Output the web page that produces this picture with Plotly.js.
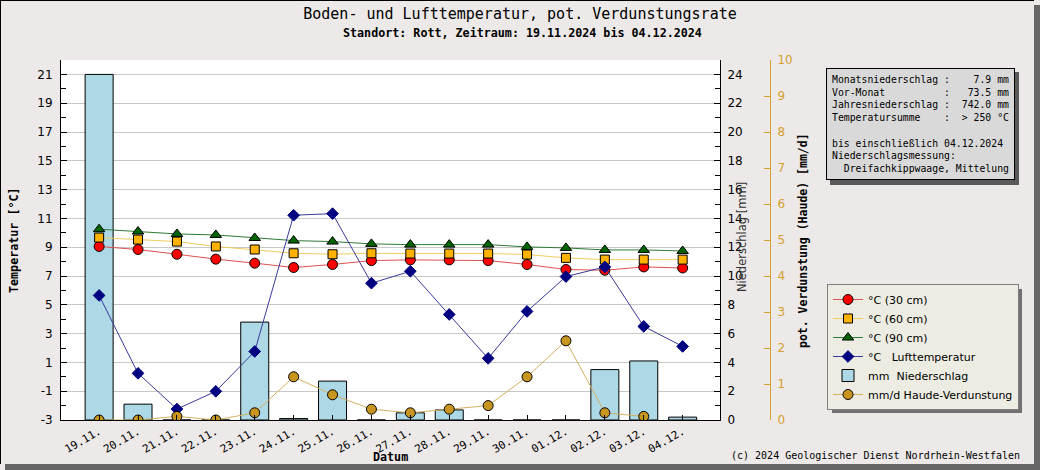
<!DOCTYPE html>
<html><head><meta charset="utf-8">
<script src="https://cdn.plot.ly/plotly-3.0.1.min.js"></script>
<style>html,body{margin:0;padding:0;background:#EDE9E8;} #chart{width:1040px;height:470px;}</style>
</head><body><div id="chart"></div>
<script>
// ---- data ----
const dates = ['19.11.','20.11.','21.11.','22.11.','23.11.','24.11.','25.11.','26.11.','27.11.','28.11.','29.11.','30.11.','01.12.','02.12.','03.12.','04.12.'];
const soil30 = [9.05,8.84,8.51,8.17,7.89,7.59,7.80,8.07,8.12,8.12,8.07,7.80,7.45,7.40,7.63,7.56];
const soil60 = [9.67,9.53,9.39,9.05,8.84,8.58,8.51,8.58,8.56,8.56,8.56,8.49,8.26,8.14,8.14,8.14];
const soil90 = [10.25,10.09,9.92,9.85,9.64,9.46,9.39,9.23,9.18,9.18,9.18,9.02,8.95,8.81,8.81,8.74];
const airTemp = [5.65,0.24,-2.24,-1.01,1.76,11.22,11.33,6.50,7.33,4.33,1.28,4.54,6.96,7.63,3.50,2.11];
const precip = [24.0,1.1,0,0,6.8,0.1,2.7,0,0.5,0.7,0,0,0,3.5,4.1,0.2];
const evap = [0,0,0.1,0,0.2,1.2,0.7,0.3,0.2,0.3,0.4,1.2,2.2,0.2,0.1,null];
const tempTicks = [-3,-1,1,3,5,7,9,11,13,15,17,19,21];
const precipTicks = [0,2,4,6,8,10,12,14,16,18,20,22,24];
const evapTicks = [0,1,2,3,4,5,6,7,8,9,10];
const infoLines = [
  'Monatsniederschlag :    7.9 mm',
  'Vor-Monat          :   73.5 mm',
  'Jahresniederschlag :  742.0 mm',
  'Temperatursumme    :  > 250 °C',
  '',
  'bis einschließlich 04.12.2024',
  'Niederschlagsmessung:',
  '  Dreifachkippwaage, Mittelung'
];

const MONO = 'DejaVu Sans Mono';
const SANS = 'DejaVu Sans';
const W = 979, H = 360, L = 61, T = 60;
const px = v => (v - L) / W;
const py = v => (T + H - v) / H;
const nb = s => s.replace(/ /g, '\u00a0');

const traces = [
  {type:'bar', x:dates, y:precip, yaxis:'y', name:nb('mm  Niederschlag'), legendrank:5,
   width:0.72, marker:{color:'#ADD8E6', line:{color:'#000', width:1}}},
  {type:'scatter', mode:'lines+markers', x:dates, y:soil30, yaxis:'y2', name:'°C (30 cm)', legendrank:1,
   line:{color:'#E05050', width:1}, marker:{symbol:'circle', size:10, color:'#FF0000', line:{color:'#000', width:1}}},
  {type:'scatter', mode:'lines+markers', x:dates, y:soil60, yaxis:'y2', name:'°C (60 cm)', legendrank:2,
   line:{color:'#F2CC60', width:1}, marker:{symbol:'square', size:9, color:'#FFB300', line:{color:'#000', width:1}}},
  {type:'scatter', mode:'lines+markers', x:dates, y:soil90, yaxis:'y2', name:'°C (90 cm)', legendrank:3,
   line:{color:'#2F7A35', width:1}, marker:{symbol:'triangle-up', size:10, color:'#006400', line:{color:'#000', width:1}}},
  {type:'scatter', mode:'lines+markers', x:dates, y:airTemp, yaxis:'y2', name:nb('°C   Lufttemperatur'), legendrank:4,
   line:{color:'#3A3A9A', width:1}, marker:{symbol:'diamond', size:9, color:'#000080', line:{color:'#000080', width:1}}},
  {type:'scatter', mode:'lines+markers', x:dates, y:evap, yaxis:'y3', name:'mm/d Haude-Verdunstung', legendrank:6,
   line:{color:'#D4B060', width:1}, marker:{symbol:'circle', size:10, color:'#C8961E', line:{color:'#000', width:1}}}
];

const ann = (text, x, y, font, extra) => Object.assign({text, x:px(x), y:py(y), xref:'paper', yref:'paper',
   xanchor:'center', yanchor:'middle', showarrow:false, font}, extra || {});

const annotations = [
  ann('Standort: Rott, Zeitraum: 19.11.2024 bis 04.12.2024', 522, 33, {family:MONO, size:11.7, color:'#000', weight:'bold'}),
  ann('Temperatur [°C]', 14, 240, {family:MONO, size:11.7, color:'#000', weight:'bold'}, {textangle:-90}),
  ann('Niederschlag [mm]', 742, 237, {family:SANS, size:11.5, color:'#333'}, {textangle:-90}),
  ann('pot. Verdunstung (Haude) [mm/d]', 803, 241, {family:MONO, size:11.5, color:'#000', weight:'bold'}, {textangle:-90}),
  ann('Datum', 390, 457, {family:MONO, size:11.7, color:'#000', weight:'bold'}),
  ann('(c) 2024 Geologischer Dienst Nordrhein-Westfalen', 875, 455, {family:MONO, size:10, color:'#000'}),
  ann(infoLines.map(nb).join('<br>'), 826, 68, {family:MONO, size:9.8, color:'#000'},
      {xanchor:'left', yanchor:'top', align:'left', bgcolor:'#D9D9D9', bordercolor:'#000', borderwidth:1, borderpad:5})
];

const LG = {x:827, y:284, w:190, h:124};
const shapes = [
  // info box shadow
  {type:'rect', xref:'paper', yref:'paper', x0:px(830), x1:px(1019), y0:py(72), y1:py(185), fillcolor:'#5A5A5A', line:{width:0}, layer:'above'},
  // legend shadow
  {type:'rect', xref:'paper', yref:'paper', x0:px(LG.x+5), x1:px(LG.x+LG.w+5), y0:py(LG.y+5), y1:py(LG.y+LG.h+5), fillcolor:'#707070', line:{width:0}, layer:'above'},
  // outer frame
  {type:'rect', xref:'paper', yref:'paper', x0:px(1034), x1:px(1040), y0:py(470), y1:py(5), fillcolor:'#666', line:{width:0}, layer:'above'},
  {type:'rect', xref:'paper', yref:'paper', x0:px(5), x1:px(1040), y0:py(470), y1:py(464), fillcolor:'#666', line:{width:0}, layer:'above'},
  {type:'line', xref:'paper', yref:'paper', x0:px(0.5), x1:px(0.5), y0:py(0), y1:py(464), line:{color:'#000', width:1}, layer:'above'},
  {type:'line', xref:'paper', yref:'paper', x0:px(0), x1:px(1034), y0:py(0.5), y1:py(0.5), line:{color:'#000', width:1}, layer:'above'}
];

const layout = {
  width:1040, height:470,
  margin:{l:L, r:1040-L-W, t:T, b:470-T-H, pad:0},
  paper_bgcolor:'#EDE9E8', plot_bgcolor:'#FFFFFF',
  title:{text:'Boden- und Lufttemperatur, pot. Verdunstungsrate', x:0.5, xref:'container', y:1-14/470, yref:'container',
         xanchor:'center', yanchor:'middle', font:{family:MONO, size:15, color:'#000'}},
  showlegend:true,
  legend:{x:px(LG.x), y:py(LG.y), xanchor:'left', yanchor:'top', bgcolor:'rgb(236,236,226)', bordercolor:'#808080', borderwidth:1,
          font:{family:SANS, size:11, color:'#000'}, itemwidth:30, traceorder:'normal'},
  bargap:0,
  xaxis:{type:'category', domain:[0, 659/W], range:[-0.98, 15.96], anchor:'y',
         showline:true, linecolor:'#000', linewidth:1, mirror:false, showgrid:false, zeroline:false,
         ticks:'inside', ticklen:5, tickcolor:'#000', tickangle:-30,
         tickfont:{family:MONO, size:11, color:'#000'}},
  yaxis:{range:[0,25], side:'right', anchor:'x', showgrid:false, zeroline:false,
         showline:true, linecolor:'#000', linewidth:1,
         tickmode:'array', tickvals:precipTicks, ticktext:precipTicks.map(String),
         ticks:'inside', ticklen:6, tickcolor:'#000', ticklabelstandoff:4,
         minor:{tickmode:'linear', tick0:0, dtick:1, ticks:'inside', ticklen:5, tickcolor:'#000', showgrid:false},
         tickfont:{family:SANS, size:12, color:'#000'}},
  yaxis2:{range:[-3,22], side:'left', overlaying:'y', anchor:'x', zeroline:false,
          showgrid:true, gridcolor:'#C8C8C8', gridwidth:1,
          showline:true, linecolor:'#000', linewidth:1,
          tickmode:'array', tickvals:tempTicks, ticktext:tempTicks.map(String),
          ticks:'inside', ticklen:6, tickcolor:'#000', ticklabelstandoff:5,
          minor:{tickmode:'linear', tick0:-3, dtick:1, ticks:'inside', ticklen:5, tickcolor:'#000', showgrid:false},
          tickfont:{family:SANS, size:12, color:'#000'}},
  yaxis3:{range:[0,10], side:'right', overlaying:'y', anchor:'free', position:709/W, zeroline:false, showgrid:false,
          showline:true, linecolor:'#D4A030', linewidth:1,
          tickmode:'array', tickvals:evapTicks, ticktext:evapTicks.map(String),
          ticks:'inside', ticklen:6, tickcolor:'#D4A030', ticklabelstandoff:4,
          tickfont:{family:SANS, size:12, color:'#D4A030'}},
  annotations:annotations,
  shapes:shapes
};

Plotly.newPlot('chart', traces, layout, {displayModeBar:false, staticPlot:true});
</script>
</body></html>
